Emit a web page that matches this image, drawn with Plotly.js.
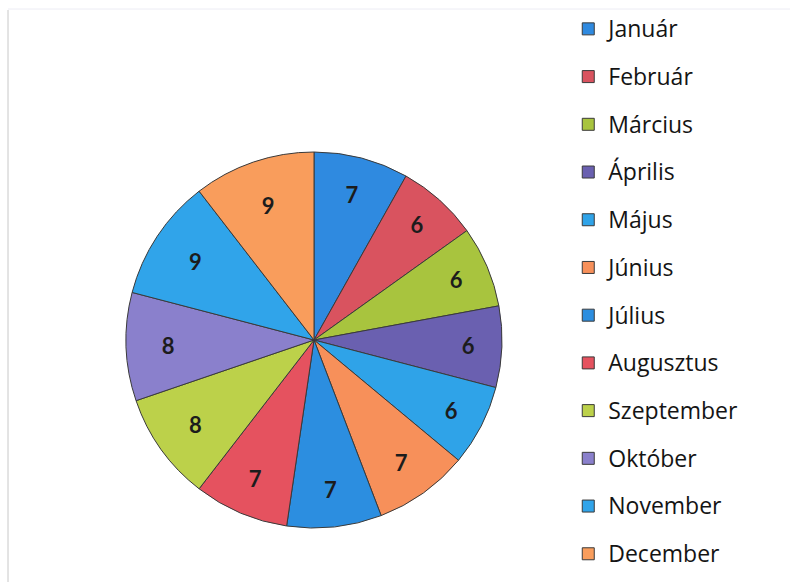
<!DOCTYPE html>
<html><head><meta charset="utf-8">
<script src="https://cdn.plot.ly/plotly-3.0.1.min.js"></script>
<style>html,body{margin:0;padding:0;background:#fff;}</style>
</head><body>
<div id="chart" style="width:797px;height:582px;"></div>
<script>
const months = ["Január","Február","Március","Április","Május","Június","Július","Augusztus","Szeptember","Október","November","December"];
const values = [7,6,6,6,6,7,7,7,8,8,9,9];
const colors = ["#2f8ae0","#d9535f","#a8c43e","#6a60b0","#2fa3e8","#f7905a","#2c8ee0","#e5525f","#bcd14a","#8a80cc","#30a4ea","#f99d5c"];

const W = 797, H = 582;
const cx = 314, cy = 340, R = 188;

const trace = {
  type: 'pie',
  labels: months.map(m => '<span style="font-size:23px;baseline-shift:5px">' + m + '</span>'),
  values: values,
  sort: false,
  direction: 'clockwise',
  rotation: 0,
  textinfo: 'value',
  textposition: 'inside',
  insidetextorientation: 'horizontal',
  textfont: {family: 'Lato, sans-serif', size: 22, color: '#1c1c1c', weight: 'bold'},
  marker: {colors: colors, line: {color: '#3a3a3a', width: 1}},
  domain: {x: [(cx - R) / W, (cx + R) / W], y: [1 - (cy + R) / H, 1 - (cy - R) / H]},
  hoverinfo: 'label+value'
};

const layout = {
  width: W, height: H,
  margin: {l: 0, r: 0, t: 0, b: 0},
  paper_bgcolor: '#ffffff',
  showlegend: true,
  legend: {
    x: 0.713, xanchor: 'left', y: 1 - 6 / H, yanchor: 'top',
    maxheight: 2000,
    font: {family: '"Open Sans", sans-serif', size: 34.4, color: '#141414'},
    bgcolor: 'rgba(0,0,0,0)', borderwidth: 0, traceorder: 'normal'
  },
  shapes: [
    {type: 'line', xref: 'paper', yref: 'paper', x0: 8 / W, x1: 8 / W, y0: 0, y1: 1 - 10 / H, line: {color: '#c8c8c8', width: 1}},
    {type: 'line', xref: 'paper', yref: 'paper', x0: 8 / W, x1: 790 / W, y0: 1 - 9 / H, y1: 1 - 9 / H, line: {color: '#ececf4', width: 1}}
  ]
};

Plotly.newPlot('chart', [trace], layout, {displayModeBar: false, staticPlot: true});
</script>
</body></html>
